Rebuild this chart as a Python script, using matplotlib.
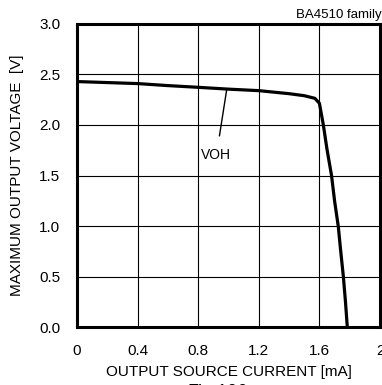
import numpy as np
import matplotlib.pyplot as plt

plt.rcParams['font.family'] = ['Liberation Sans', 'DejaVu Sans']

# Corriente de salida [mA] y tension maxima de salida [V]
I_mA = [0.0, 0.2, 0.4, 0.6, 0.8, 1.0, 1.2, 1.4, 1.5, 1.57, 1.60, 1.626, 1.65, 1.68, 1.70, 1.725, 1.74, 1.758, 1.772, 1.784]
VOH = [2.43, 2.42, 2.41, 2.39, 2.373, 2.355, 2.34, 2.31, 2.29, 2.264, 2.215, 2.0, 1.76, 1.5, 1.25, 0.99, 0.76, 0.5, 0.25, 0.0]

x_ticks = [0, 0.4, 0.8, 1.2, 1.6, 2]
x_labels = ['0', '0.4', '0.8', '1.2', '1.6', '2']
y_ticks = [0.0, 0.5, 1.0, 1.5, 2.0, 2.5, 3.0]

fig = plt.figure(figsize=(3.82, 3.85), dpi=100)
ax = fig.add_axes([0.2016, 0.1506, 0.7932, 0.7871])

ax.plot(I_mA, VOH, color='black', lw=2.3, solid_capstyle='butt')

ax.set_xlim(0, 2)
ax.set_ylim(0, 3)
ax.set_xticks(x_ticks)
ax.set_xticklabels(x_labels)
ax.set_yticks(y_ticks)
ax.set_yticklabels([f'{v:.1f}' for v in y_ticks])
ax.tick_params(length=0, labelsize=11)
ax.tick_params(axis='x', pad=12)
ax.tick_params(axis='y', pad=12)
ax.grid(True, color='black', lw=0.8)
for s in ax.spines.values():
    s.set_linewidth(2.2)

ax.set_xlabel('OUTPUT SOURCE CURRENT [mA]', fontsize=11, labelpad=5)
ax.set_ylabel('MAXIMUM OUTPUT VOLTAGE  [V]', fontsize=11, labelpad=11)

ax.annotate('VOH', xy=(0.988, 2.35), xytext=(0.92, 1.70), fontsize=10,
            ha='center', va='center',
            arrowprops=dict(arrowstyle='-', color='black', lw=1.0, shrinkA=7, shrinkB=0))

fig.text(0.999, 0.961, 'BA4510 family', fontsize=9.5, ha='right', va='center')
fig.text(0.57, 0.002, 'Fig.106', fontsize=13, ha='center', va='top')

plt.savefig('out.png', dpi=100)
plt.close()
